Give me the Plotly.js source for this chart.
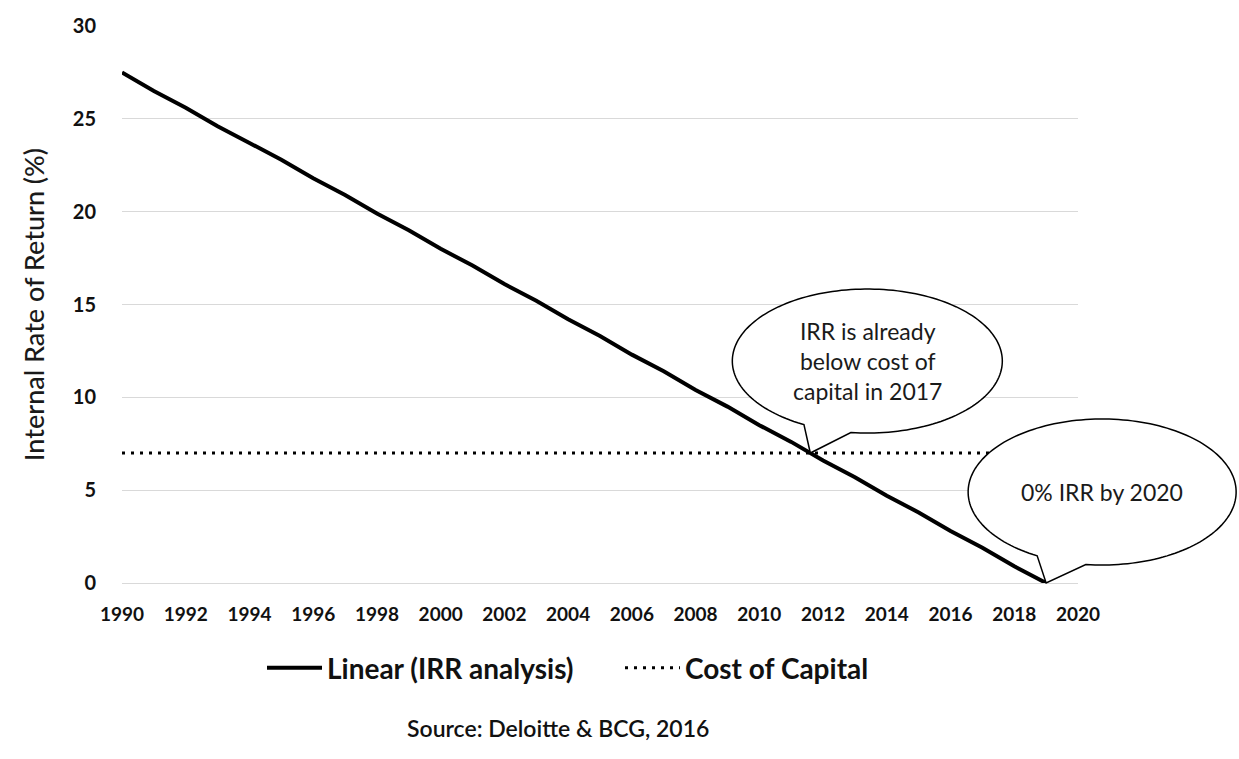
<!DOCTYPE html>
<html><head><meta charset="utf-8">
<script src="https://cdn.plot.ly/plotly-3.0.1.min.js"></script>
<style>body{margin:0;background:#fff}#chart{width:1239px;height:759px}</style>
</head><body><div id="chart"></div>
<script>
// ---- data ----
const years = [1990,1991,1992,1993,1994,1995,1996,1997,1998,1999,2000,2001,2002,2003,2004,2005,2006,2007,2008,2009,2010,2011,2012,2013,2014,2015,2016,2017,2018,2019];
const irrLinear = [27.5,26.5,25.6,24.6,23.7,22.8,21.8,20.9,19.9,19.0,18.0,17.1,16.1,15.2,14.2,13.3,12.3,11.4,10.4,9.5,8.5,7.6,6.6,5.7,4.7,3.8,2.8,1.9,0.9,0.0];
const costYears = [1990, 2019];
const costOfCapital = [7, 7];
const seriesNames = ['Linear (IRR analysis)', 'Cost of Capital'];
const calloutTexts = ['IRR is already<br>below cost of<br>capital in 2017', '0% IRR by 2020'];
const xTicks = [1990,1992,1994,1996,1998,2000,2002,2004,2006,2008,2010,2012,2014,2016,2018,2020];
const yTicks = [0,5,10,15,20,25,30];
const yTitle = 'Internal Rate of Return (%)';
const sourceText = 'Source: Deloitte & BCG, 2016';

// ---- geometry ----
const W = 1239, H = 759;
const M = {l:122, r:161, t:26, b:176};
const PW = W - M.l - M.r, PH = H - M.t - M.b;
const xR = [1990, 2020], yR = [0, 30];
const toPx = (x, y) => [M.l + (x - xR[0]) / (xR[1] - xR[0]) * PW, M.t + PH - (y - yR[0]) / (yR[1] - yR[0]) * PH];
const toPaper = (px, py) => [(px - M.l) / PW, (M.t + PH - py) / PH];

// tip 1: where the IRR line crosses the cost of capital
let tip1 = [years[0], costOfCapital[0]];
for (let i = 1; i < years.length; i++) {
  if (irrLinear[i-1] >= costOfCapital[0] && irrLinear[i] < costOfCapital[0]) {
    const f = (irrLinear[i-1] - costOfCapital[0]) / (irrLinear[i-1] - irrLinear[i]);
    tip1 = [years[i-1] + f * (years[i] - years[i-1]), costOfCapital[0]];
    break;
  }
}
const tip2 = [years[years.length-1], irrLinear[irrLinear.length-1]];

const FONT = 'Lato, "Noto Sans", sans-serif';
const callouts = [
  {tip: tip1, dx: 57, dy: -92, rx: 135, ry: 72, tL: 118, tR: 97, text: calloutTexts[0]},
  {tip: tip2, dx: 56, dy: -91, rx: 134, ry: 73, tL: 119, tR: 97, text: calloutTexts[1]}
];
const shapes = [], annotations = [];
callouts.forEach(c => {
  const [tx, ty] = toPx(c.tip[0], c.tip[1]);
  const cx = tx + c.dx, cy = ty + c.dy;
  const pts = [];
  for (let a = c.tR; a >= c.tL - 360; a -= 2) {
    const r = a * Math.PI / 180;
    pts.push(toPaper(cx + c.rx * Math.cos(r), cy + c.ry * Math.sin(r)));
  }
  const rl = (c.tL - 360) * Math.PI / 180;
  pts.push(toPaper(cx + c.rx * Math.cos(rl), cy + c.ry * Math.sin(rl)));
  pts.push(toPaper(tx, ty));
  const path = 'M ' + pts.map(p => p[0].toFixed(5) + ',' + p[1].toFixed(5)).join(' L ') + ' Z';
  shapes.push({type:'path', xref:'paper', yref:'paper', path, fillcolor:'#ffffff', line:{color:'#000', width:1.5}, layer:'above'});
  const cp = toPaper(cx, cy);
  annotations.push({xref:'paper', yref:'paper', x:cp[0], y:cp[1], text:c.text, showarrow:false,
    font:{family:FONT, size:23, color:'#1a1a1a'}, xanchor:'center', yanchor:'middle'});
});
annotations.push({xref:'paper', yref:'paper', x:(558 - M.l)/PW, y:(M.t + PH - 728)/PH, text:sourceText,
  showarrow:false, font:{family:FONT, size:23, color:'#111', weight:600}, xanchor:'center', yanchor:'middle'});

const traces = [
  {x: years, y: irrLinear, name: seriesNames[0], mode:'lines', line:{color:'#000', width:4}},
  {x: costYears, y: costOfCapital, name: seriesNames[1], mode:'lines', line:{color:'#000', width:3, dash:'3px,6px'}}
];

const layout = {
  width: W, height: H, margin: M,
  paper_bgcolor:'#fff', plot_bgcolor:'#fff',
  font:{family:FONT, color:'#111'},
  showlegend: true,
  legend:{orientation:'h', x:(262 - M.l)/PW, xanchor:'left', y:(M.t + PH - 668)/PH, yanchor:'middle',
    font:{family:FONT, size:28, color:'#111', weight:700}, itemwidth:55, traceorder:'normal', entrywidth:288},
  xaxis:{range:xR, tickvals:xTicks, ticktext:xTicks.map(String), showgrid:false, zeroline:false, showline:false,
    ticks:'', tickfont:{family:FONT, size:19, color:'#111', weight:700}, ticklabelstandoff:18, fixedrange:true},
  yaxis:{range:yR, tickvals:yTicks, showgrid:true, gridcolor:'#d9d9d9', gridwidth:1, zeroline:true, zerolinecolor:'#d9d9d9', zerolinewidth:1, showline:false,
    ticks:'', tickfont:{family:FONT, size:20, color:'#111', weight:700}, ticklabelstandoff:25,
    title:{text:yTitle, font:{family:FONT, size:27, color:'#1a1a1a', weight:500}, standoff:20}, fixedrange:true},
  shapes, annotations
};
Plotly.newPlot('chart', traces, layout, {displayModeBar:false, staticPlot:true});
</script>
</body></html>
